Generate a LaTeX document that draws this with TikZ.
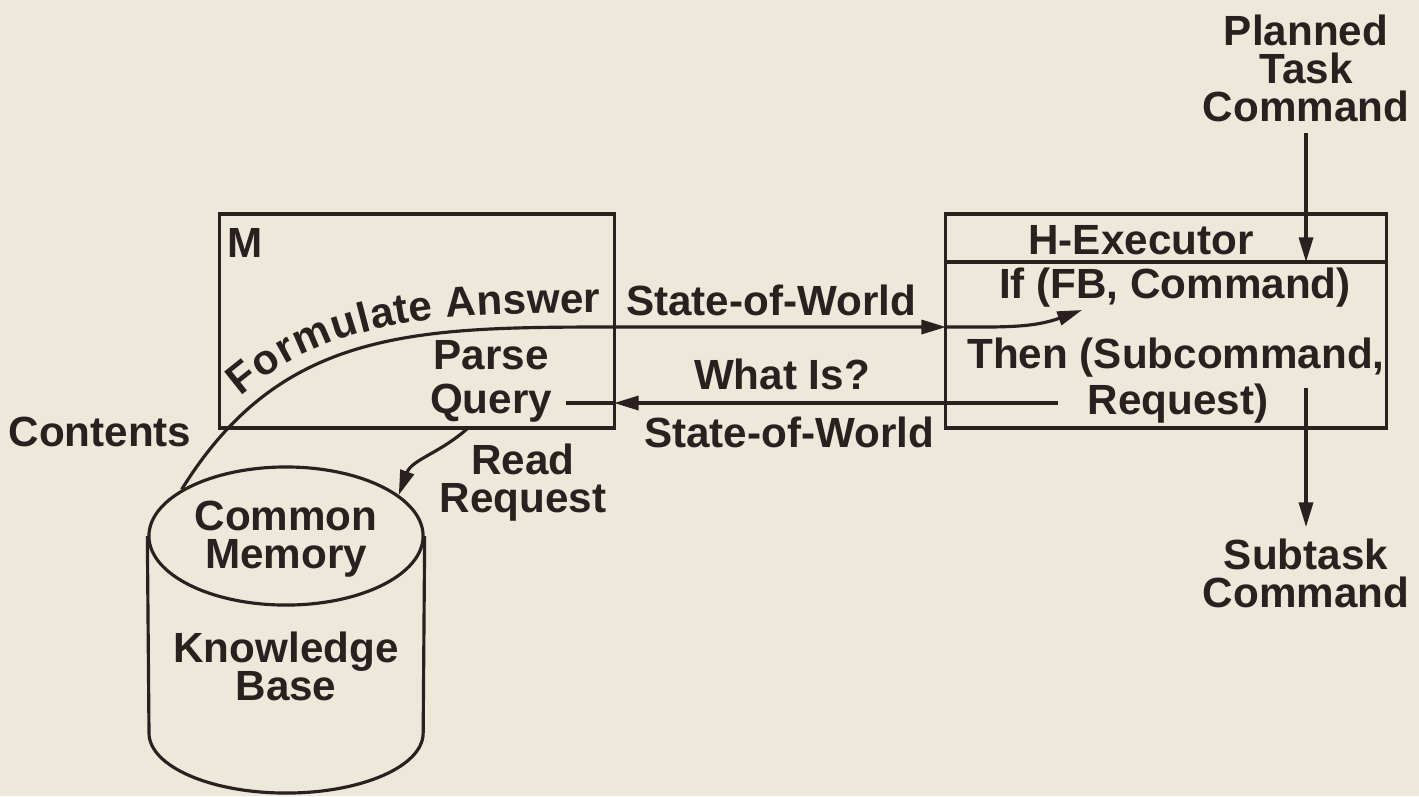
\documentclass[tikz,border=0pt]{standalone}
\usepackage{fontspec}
\setmainfont{Liberation Sans}
\usetikzlibrary{arrows.meta,shapes.geometric,decorations.text}
\definecolor{paper}{HTML}{ECE8DA}
\definecolor{ink}{HTML}{2A2020}
\newcommand{\lblfont}{\fontsize{12}{10.8}\selectfont\bfseries}
\tikzset{
  lbl/.style={font=\lblfont, text=ink, align=center, inner sep=0pt},
  wire/.style={draw=ink, line width=0.9pt},
  tip/.style={-{Triangle[length=7pt,width=4pt]}},
  box/.style={draw=ink, line width=0.9pt, rectangle, inner sep=0pt},
}
\begin{document}
\begin{tikzpicture}[x=0.01cm,y=-0.01cm]
\fill[paper] (0,0) rectangle (1419,796);
\useasboundingbox (0,0) rectangle (1419,796);

% the two processing modules
\node[box, minimum width=3.94cm, minimum height=2.14cm] (mbox) at (417,321) {};
\node[box, minimum width=4.40cm, minimum height=2.14cm] (hbox) at (1166,321) {};

% common memory drum
\node[ellipse, draw=ink, line width=0.9pt, minimum width=2.74cm, minimum height=1.38cm, inner sep=0pt] (cm) at (286,536) {};
\draw[wire] (cm.west) -- (149,733) arc[start angle=180, end angle=360, x radius=1.37cm, y radius=0.6cm] -- (cm.east);
\node[lbl] (cmt) at (286,539) {Common\\Memory};
\node[lbl] (kb) at (286,666) {Knowledge\\Base};

% executor header
\coordinate (pd) at (1306,262);
\draw[wire] (hbox.west |- pd) -- (hbox.east |- pd);
\node[lbl] (hx) at (1141,240) {H-Executor};
\node[lbl] (ifc) at (1175,288) {If (FB, Command)};
\node[lbl] (thn) at (1176,358) {Then (Subcommand,};
\node[lbl] (req) at (1178,404) {Request)};

% M module texts
\node[lbl] (mm) at (245,243) {M};
\node[lbl, anchor=base] (prs) at (491,369) {Parse};
\node[lbl, anchor=base] (qry) at (491,413) {Query};

% free labels
\node[lbl] (sw1) at (771,300) {State-of-World};
\node[lbl] (wi) at (782,374) {What Is?};
\node[lbl] (sw2) at (789,432) {State-of-World};
\node[lbl] (ct) at (100,432) {Contents};
\node[lbl] (rrq) at (523,483) {Read\\Request};
\node[lbl] (ptc) at (1306,68) {Planned\\Task\\Command};
\node[lbl] (stc) at (1306,573) {Subtask\\Command};

% contents / formulate answer flow
\coordinate (fa) at (614,327);
\coordinate (hin) at (946,327);
\coordinate (ifp) at (1082,310);
\draw[wire,tip] (cm.156) .. controls (281,329) and (414,327) .. (fa) -- (hin);
\draw[wire,tip] (hin) to[out=0,in=200] (ifp);
\path[decorate, decoration={text along path,
    text={|\lblfont\color{ink}|Formulate Answer},
    text align={right, right indent=0.14cm}, raise=4pt}]
  (cm.156) .. controls (281,329) and (414,327) .. (fa);

% what-is query
\coordinate (rq) at (1058,403);
\coordinate (me) at (614,403);
\coordinate (qe) at (566,403);
\draw[wire,tip] (rq) -- (me);
\draw[wire] (me) -- (qe);

% read request
\coordinate (rr) at (468,428);
\draw[wire,tip] (rr) to[out=222,in=70] (cm.20);

% command flow
\coordinate (pt) at (1306,133);
\draw[wire,tip] (pt) -- (pd);
\coordinate (sa) at (1306,388);
\coordinate (sb) at (1306,527);
\draw[wire,tip] (sa) -- (sb);
\end{tikzpicture}
\end{document}
